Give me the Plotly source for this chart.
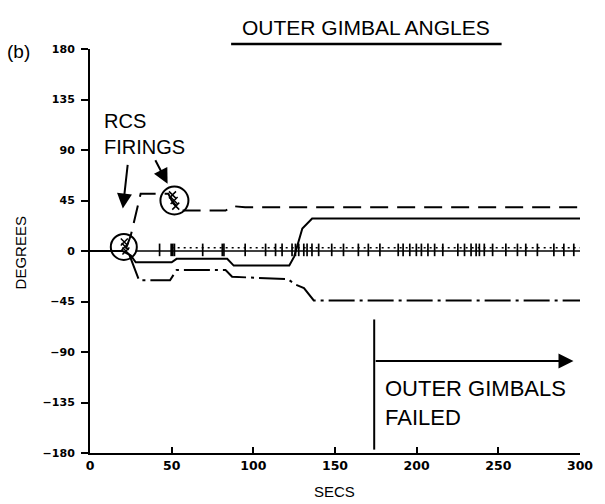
import plotly.graph_objects as go

# ---- data (time in s, angle in degrees) ----
dash_t = [22, 25, 31, 48, 50, 55, 83, 87, 95, 300]
dash_y = [2, 14, 51, 51, 45, 36, 36, 40, 39, 39]

solid_t = [0, 20, 25, 28, 50, 53, 84, 88, 122, 125, 130, 136, 300]
solid_y = [0, 0, -4, -10, -10, -7, -7, -13, -13, -5, 20, 29, 29]

dashdot_t = [24, 27, 30, 49, 53, 83, 87, 121, 126, 131, 137, 300]
dashdot_y = [-3, -15, -26, -26, -17, -17, -23, -25, -30, -33, -44, -44]

zero_t = [28, 300]
zero_y = [0, 0]

dotted_t = [50, 300]
dotted_y = [3, 3]

spike_t = [42.6, 49.7, 50.7, 51.7, 69, 81, 82, 95, 107.5, 113.6, 117.6,
           123.7, 125.8, 127.8, 130.9, 132.9, 135.9, 140, 148, 155.2, 164.3,
           170.4, 177.5, 188.7, 191.7, 195.8, 199.8, 202.9, 206.9, 211, 216,
           225.2, 229.3, 233.3, 236.4, 238.4, 241.4, 246.5, 254.6, 261.7,
           266.8, 273.9, 284, 290.1, 296.2]
spike_y = [1] * len(spike_t)

firing_t = [21, 21.5, 22, 50.5, 51.5, 52.5]
firing_y = [8, 4, 0, 50, 45, 40]

circle_t = [20.7, 51.7]
circle_y = [3.6, 45]
circle_r = [13, 14]

x_ticks = [0, 50, 100, 150, 200, 250, 300]
y_ticks = [180, 135, 90, 45, 0, -45, -90, -135, -180]

fail_t = 174
fail_y_range = [-61, -177]
fail_arrow_y = -98
fail_arrow_end = 296

TICKFAM = "DejaVu Sans, sans-serif"
TXT = "Liberation Sans, Arial, sans-serif"

fig = go.Figure()

fig.add_trace(go.Scatter(x=dash_t, y=dash_y, mode="lines",
                         line=dict(color="black", width=2, dash="18px,9px")))
fig.add_trace(go.Scatter(x=solid_t, y=solid_y, mode="lines",
                         line=dict(color="black", width=2, shape="linear")))
fig.add_trace(go.Scatter(x=dashdot_t, y=dashdot_y, mode="lines",
                         line=dict(color="black", width=2, dash="26px,5px,3px,5px")))
fig.add_trace(go.Scatter(x=zero_t, y=zero_y, mode="lines",
                         line=dict(color="black", width=1.5)))
fig.add_trace(go.Scatter(x=dotted_t, y=dotted_y, mode="lines",
                         line=dict(color="black", width=1.5, dash="2px,4px")))
fig.add_trace(go.Scatter(x=spike_t, y=spike_y, mode="markers",
                         marker=dict(symbol="line-ns", size=9,
                                     line=dict(color="black", width=1.7))))
fig.add_trace(go.Scatter(x=firing_t, y=firing_y, mode="markers",
                         marker=dict(symbol="x-thin", size=7,
                                     line=dict(color="black", width=1.5))))
fig.add_trace(go.Scatter(x=[fail_t, fail_t], y=fail_y_range, mode="lines",
                         line=dict(color="black", width=2)))

shapes = []
for t, y, r in zip(circle_t, circle_y, circle_r):
    shapes.append(dict(type="circle", xref="x", yref="y",
                       xsizemode="pixel", ysizemode="pixel",
                       xanchor=t, yanchor=y, x0=-r, x1=r, y0=-r, y1=r,
                       line=dict(color="black", width=2)))
# title underline
shapes.append(dict(type="line", xref="paper", yref="paper",
                   x0=0.288, x1=0.840, y0=1.0124, y1=1.0124,
                   line=dict(color="black", width=2.5)))
fig.update_layout(shapes=shapes)

ann = [
    dict(text="OUTER GIMBAL ANGLES", xref="paper", yref="paper", x=0.564, y=1.054,
         showarrow=False, font=dict(family=TXT, size=21, color="black"),
         xanchor="center", yanchor="middle"),
    dict(text="(b)", xref="paper", yref="paper", x=-0.146, y=0.995,
         showarrow=False, font=dict(family=TXT, size=19, color="black"),
         xanchor="center", yanchor="middle"),
    dict(text="DEGREES", xref="paper", yref="paper", x=-0.142, y=0.495,
         showarrow=False, textangle=-90, font=dict(family=TXT, size=15, color="black"),
         xanchor="center", yanchor="middle"),
    dict(text="SECS", xref="paper", yref="paper", x=0.499, y=-0.0965,
         showarrow=False, font=dict(family=TXT, size=15, color="black"),
         xanchor="center", yanchor="middle"),
    dict(text="RCS<br>FIRINGS", xref="x", yref="y", x=7.3, y=104,
         showarrow=False, align="left", font=dict(family=TXT, size=20, color="black"),
         xanchor="left", yanchor="middle"),
    dict(text="OUTER GIMBALS<br>FAILED", xref="x", yref="y", x=fail_t + 5.3, y=-135,
         showarrow=False, align="left", font=dict(family=TXT, size=22, color="black"),
         xanchor="left", yanchor="middle"),
    # RCS arrows
    dict(x=20.1, y=37.9, xref="x", yref="y", ax=5, ay=-45, axref="pixel", ayref="pixel",
         text="", showarrow=True, arrowhead=2, arrowsize=1.5, arrowwidth=2, arrowcolor="black"),
    dict(x=47.5, y=60, xref="x", yref="y", ax=-13, ay=-25, axref="pixel", ayref="pixel",
         text="", showarrow=True, arrowhead=2, arrowsize=1.5, arrowwidth=2, arrowcolor="black"),
    # failed arrow
    dict(x=fail_arrow_end, y=fail_arrow_y, xref="x", yref="y",
         ax=fail_t, ay=fail_arrow_y, axref="x", ayref="y",
         text="", showarrow=True, arrowhead=2, arrowsize=1.5, arrowwidth=2, arrowcolor="black"),
]
fig.update_layout(annotations=ann)

fig.update_xaxes(range=[0, 300], tickvals=x_ticks, ticktext=[str(v) for v in x_ticks],
                 showgrid=False, zeroline=False, showline=True, linecolor="black", linewidth=2,
                 ticks="inside", ticklen=6, tickwidth=1.5, tickcolor="black",
                 tickfont=dict(family=TICKFAM, size=12.5, color="black", weight="bold"))
fig.update_yaxes(range=[-180, 180], tickvals=y_ticks,
                 ticktext=[str(v).replace("-", "\u2212") for v in y_ticks],
                 showgrid=False, zeroline=False, showline=True, linecolor="black", linewidth=2,
                 ticks="outside", ticklen=7, tickwidth=1.5, tickcolor="black",
                 ticklabelstandoff=4,
                 tickfont=dict(family=TICKFAM, size=11, color="black", weight="bold"))

fig.update_layout(width=605, height=504, showlegend=False,
                  paper_bgcolor="white", plot_bgcolor="white",
                  margin=dict(l=90, r=22, t=49, b=51))

fig.write_html("out.html")
